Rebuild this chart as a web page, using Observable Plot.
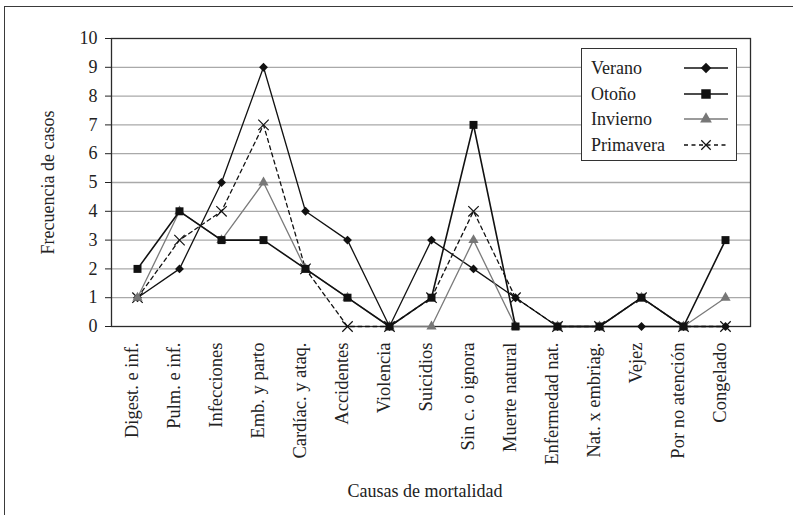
<!DOCTYPE html>
<html>
<head>
<meta charset="utf-8">
<script src="https://cdn.jsdelivr.net/npm/d3@7"></script>
<script src="https://cdn.jsdelivr.net/npm/@observablehq/plot@0.6"></script>
<style>
  html, body { margin: 0; padding: 0; background: #fff; overflow: hidden; }
  #wrap { position: relative; width: 793px; height: 515px; overflow: hidden; }
  #outer { position: absolute; left: 4px; top: 6px; width: 900px; height: 700px; border: 1.5px solid #3a3a3a; }
  #chart { position: absolute; left: 0; top: 0; }
  #legend { position: absolute; left: 581px; top: 48px; width: 156px; height: 113px; box-sizing: border-box;
            border: 1.3px solid #333; background: #fff; font-family: 'Liberation Serif', 'Times New Roman', serif;
            font-size: 18px; color: #222; }
  .row { position: absolute; left: 9px; height: 22px; line-height: 22px; width: 140px; }
  .row svg { position: absolute; left: 92px; top: 0; }
</style>
</head>
<body>
<div id="wrap">
  <div id="outer"></div>
  <div id="chart"></div>
  <div id="legend"></div>
</div>
<script>
// Causes of death and number of cases per season
const causas = [
  "Digest. e inf.", "Pulm. e inf.", "Infecciones", "Emb. y parto", "Cardíac. y ataq.",
  "Accidentes", "Violencia", "Suicidios", "Sin c. o ignora", "Muerte natural",
  "Enfermedad nat.", "Nat. x embriag.", "Vejez", "Por no atención", "Congelado"
];
const verano    = [1, 2, 5, 9, 4, 3, 0, 3, 2, 1, 0, 0, 0, 0, 0];
const otono     = [2, 4, 3, 3, 2, 1, 0, 1, 7, 0, 0, 0, 1, 0, 3];
const invierno  = [1, 4, 3, 5, 2, 1, 0, 0, 3, 0, 0, 0, 1, 0, 1];
const primavera = [1, 3, 4, 7, 2, 0, 0, 1, 4, 1, 0, 0, 1, 0, 0];
const yTicks = [0, 1, 2, 3, 4, 5, 6, 7, 8, 9, 10];
const gridValues = [1, 2, 3, 4, 5, 6, 7, 8, 9];

const font = "'Liberation Serif', 'Times New Roman', serif";
const fs = 18;

// Drawing style of each season (legend order)
const series = [
  {name: "Verano",    values: verano,    stroke: "#111", width: 1.3, dash: null,  symbol: "diamond2", r: 4.0, fill: "#111", sym: d3.symbolDiamond2, lsize: 70},
  {name: "Otoño",     values: otono,     stroke: "#111", width: 1.6, dash: null,  symbol: "square",   r: 4.5, fill: "#111", sym: d3.symbolSquare,   lsize: 90},
  {name: "Invierno",  values: invierno,  stroke: "#7a7a7a", width: 1.3, dash: null, symbol: "triangle", r: 3.8, fill: "#777", sym: d3.symbolTriangle, lsize: 60},
  {name: "Primavera", values: primavera, stroke: "#111", width: 1.3, dash: "4,3.5", symbol: "times", r: 4.8, fill: null, sym: d3.symbolTimes, lsize: 60}
];

const rows = (s) => causas.map((c, i) => ({causa: c, valor: s.values[i], serie: s.name}));

// Draw order: Verano, Primavera, Invierno, Otoño (Otoño on top)
const drawOrder = [series[0], series[3], series[2], series[1]];

const marks = [
  Plot.ruleY(gridValues, {stroke: "#a9a9a9", strokeWidth: 1.3}),
  Plot.frame({stroke: "#2b2b2b", strokeWidth: 1.3}),
  Plot.axisY(yTicks, {tickSize: 6, tickPadding: 8, fontSize: fs, fontFamily: font, label: null, stroke: "#222", fill: "#222"}),
  // category labels, rotated
  Plot.text(causas, {x: d => d, frameAnchor: "bottom", rotate: -90, textAnchor: "end", dy: 16, fontSize: 18.5, fontFamily: font, fill: "#222"}),
  Plot.text(["Frecuencia de casos"], {frameAnchor: "left", textAnchor: "middle", dx: -63, rotate: -90, fontSize: fs, fontFamily: font, fill: "#222"}),
  Plot.text(["Causas de mortalidad"], {frameAnchor: "bottom", textAnchor: "middle", dy: 170, dx: -6, fontSize: fs, fontFamily: font, fill: "#222"})
];

for (const s of drawOrder) {
  const data = rows(s);
  marks.push(Plot.line(data, {x: "causa", y: "valor", stroke: s.stroke, strokeWidth: s.width,
    strokeDasharray: s.dash ?? undefined}));
  if (s.fill) {
    marks.push(Plot.dot(data, {x: "causa", y: "valor", symbol: () => s.symbol, r: s.r, fill: s.fill, stroke: "none"}));
  } else {
    marks.push(Plot.dot(data, {x: "causa", y: "valor", symbol: () => s.symbol, r: s.r, stroke: s.stroke, strokeWidth: 1.2}));
  }
}

const chart = Plot.plot({
  width: 793,
  height: 515,
  marginLeft: 111,
  marginRight: 43,
  marginTop: 38,
  marginBottom: 189,
  style: {fontFamily: font, fontSize: fs + "px", background: "transparent", color: "#222"},
  x: {type: "point", domain: causas, padding: 0.5, axis: null},
  y: {domain: [0, 10], axis: null},
  symbol: {domain: ["diamond2", "square", "triangle", "times"], range: ["diamond2", "square", "triangle", "times"]},
  marks
});
document.getElementById("chart").appendChild(chart);

// Legend
const legend = d3.select("#legend");
series.forEach((s, i) => {
  const row = legend.append("div").attr("class", "row").style("top", (8 + i * 25.5) + "px");
  row.append("span").text(s.name);
  const svg = row.append("svg").attr("width", 46).attr("height", 22);
  svg.append("line").attr("x1", 1).attr("x2", 45).attr("y1", 11).attr("y2", 11)
    .attr("stroke", s.stroke).attr("stroke-width", s.width)
    .attr("stroke-dasharray", s.dash);
  const p = svg.append("path").attr("transform", "translate(23,11)")
    .attr("d", d3.symbol(s.sym, s.lsize)());
  if (s.fill) p.attr("fill", s.fill);
  else p.attr("fill", "none").attr("stroke", s.stroke).attr("stroke-width", 1.2);
});
</script>
</body>
</html>
